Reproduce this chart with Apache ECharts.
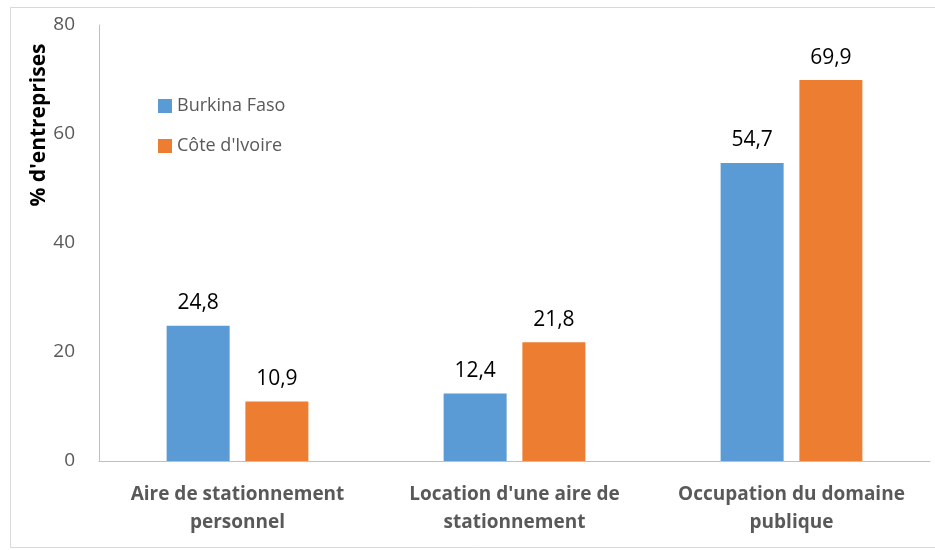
<!DOCTYPE html>
<html><head><meta charset="utf-8">
<script src="https://cdn.jsdelivr.net/npm/echarts@6/dist/echarts.min.js"></script>
<style>html,body{margin:0;padding:0;background:#fff}#c{width:935px;height:550px}</style>
</head><body><div id="c"></div>
<script>
const categories = ["Aire de stationnement\npersonnel", "Location d'une aire de\nstationnement", "Occupation du domaine\npublique"];
const burkina = [24.8, 12.4, 54.7];
const coteIvoire = [10.9, 21.8, 69.9];
const seriesNames = ["Burkina Faso", "Côte d'Ivoire"];
const yTicks = [0, 20, 40, 60, 80];
const yAxisTitle = "% d'entreprises";

const chart = echarts.init(document.getElementById('c'), null, {renderer: 'canvas'});
const font = '"Open Sans", Lato, sans-serif';
const lbl = {show: true, position: 'top', distance: 12, color: '#000', fontSize: 21, fontFamily: font,
  formatter: p => String(p.value).replace('.', ',')};
chart.setOption({
  animation: false,
  graphic: [
    {type: 'rect', shape: {x: 10.5, y: 7.5, width: 940, height: 540}, style: {fill: 'none', stroke: '#d9d9d9', lineWidth: 1}},
    {type: 'text', x: 39, y: 125, rotation: Math.PI / 2,
      style: {text: yAxisTitle, fontSize: 21, fontWeight: 'bold', fill: '#000', fontFamily: font, textAlign: 'center', textVerticalAlign: 'middle'}}
  ],
  grid: {left: 99, right: 5, top: 25, bottom: 89},
  legend: {orient: 'vertical', left: 153, top: 92, itemWidth: 14, itemHeight: 14, itemGap: 22,
    textStyle: {fontSize: 18, color: '#595959', fontFamily: font}, icon: 'rect', data: seriesNames},
  xAxis: {type: 'category', data: categories,
    axisLine: {lineStyle: {color: '#bfbfbf', width: 1}}, axisTick: {show: false},
    axisLabel: {interval: 0, fontSize: 19, fontWeight: 'bold', color: '#595959', fontFamily: font, lineHeight: 28, margin: 20}},
  yAxis: {type: 'value', min: yTicks[0], max: yTicks[yTicks.length-1], interval: 20,
    axisLine: {show: true, lineStyle: {color: '#bfbfbf'}}, axisTick: {show: false}, splitLine: {show: false},
    axisLabel: {fontSize: 19, color: '#595959', fontFamily: font, margin: 24}},
  series: [
    {name: seriesNames[0], type: 'bar', data: burkina, barWidth: 63, barGap: '25%', itemStyle: {color: '#5b9bd5'}, label: lbl},
    {name: seriesNames[1], type: 'bar', data: coteIvoire, barWidth: 63, itemStyle: {color: '#ed7d31'}, label: lbl}
  ]
});
</script></body></html>
